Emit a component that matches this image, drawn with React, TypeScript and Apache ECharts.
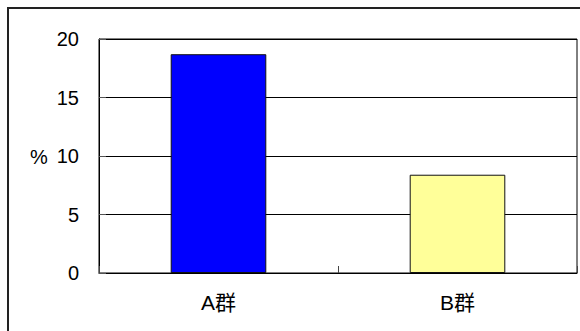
import React, { useEffect, useRef } from "react";
import * as echarts from "echarts";

const categories = ["A群", "B群"];
const values = [18.7, 8.4];
const barColors = ["#0000FF", "#FFFF99"];
const yTicks = [0, 5, 10, 15, 20];

const FONT = "'Liberation Sans', 'Noto Sans CJK JP', sans-serif";

export default function App() {
  const ref = useRef<HTMLDivElement>(null);

  useEffect(() => {
    document.body.style.margin = "0";
    document.body.style.overflow = "hidden";
    const chart = echarts.init(ref.current!, null, { renderer: "svg" });
    chart.setOption({
      animation: false,
      backgroundColor: "#ffffff",
      grid: {
        left: 99,
        top: 39,
        right: 3,
        bottom: 58,
        show: true,
        borderColor: "#000",
        borderWidth: 1,
        backgroundColor: "transparent",
      },
      xAxis: {
        type: "category",
        data: categories,
        axisLine: { lineStyle: { color: "#000", width: 1 } },
        axisTick: { show: true, interval: 0, inside: true, length: 7, lineStyle: { color: "#444" } },
        axisLabel: { color: "#000", fontSize: 21, fontFamily: FONT, margin: 19 },
      },
      yAxis: {
        type: "value",
        min: yTicks[0],
        max: yTicks[yTicks.length - 1],
        interval: 5,
        axisLine: { show: true, lineStyle: { color: "#000", width: 1 } },
        axisTick: { show: true, inside: true, length: 7, lineStyle: { color: "#555" } },
        axisLabel: { color: "#000", fontSize: 20, fontFamily: FONT, margin: 20 },
        splitLine: { show: true, lineStyle: { color: "#000", width: 1 } },
      },
      series: [
        {
          type: "bar",
          data: values.map((v, i) => ({
            value: v,
            itemStyle: { color: barColors[i] },
          })),
          barWidth: "40%",
          itemStyle: { borderColor: "#111", borderWidth: 1 },
        },
      ],
      graphic: [
        {
          type: "rect",
          shape: { x: 8, y: 8, width: 700, height: 500 },
          style: { fill: "none", stroke: "#222", lineWidth: 2 },
          silent: true,
        },
        {
          type: "text",
          x: 30,
          y: 157,
          style: {
            text: "%",
            fontSize: 20,
            fontFamily: FONT,
            fill: "#000",
            verticalAlign: "middle",
          },
        },
      ],
    });
    return () => chart.dispose();
  }, []);

  return <div ref={ref} style={{ width: 580, height: 331 }} />;
}
